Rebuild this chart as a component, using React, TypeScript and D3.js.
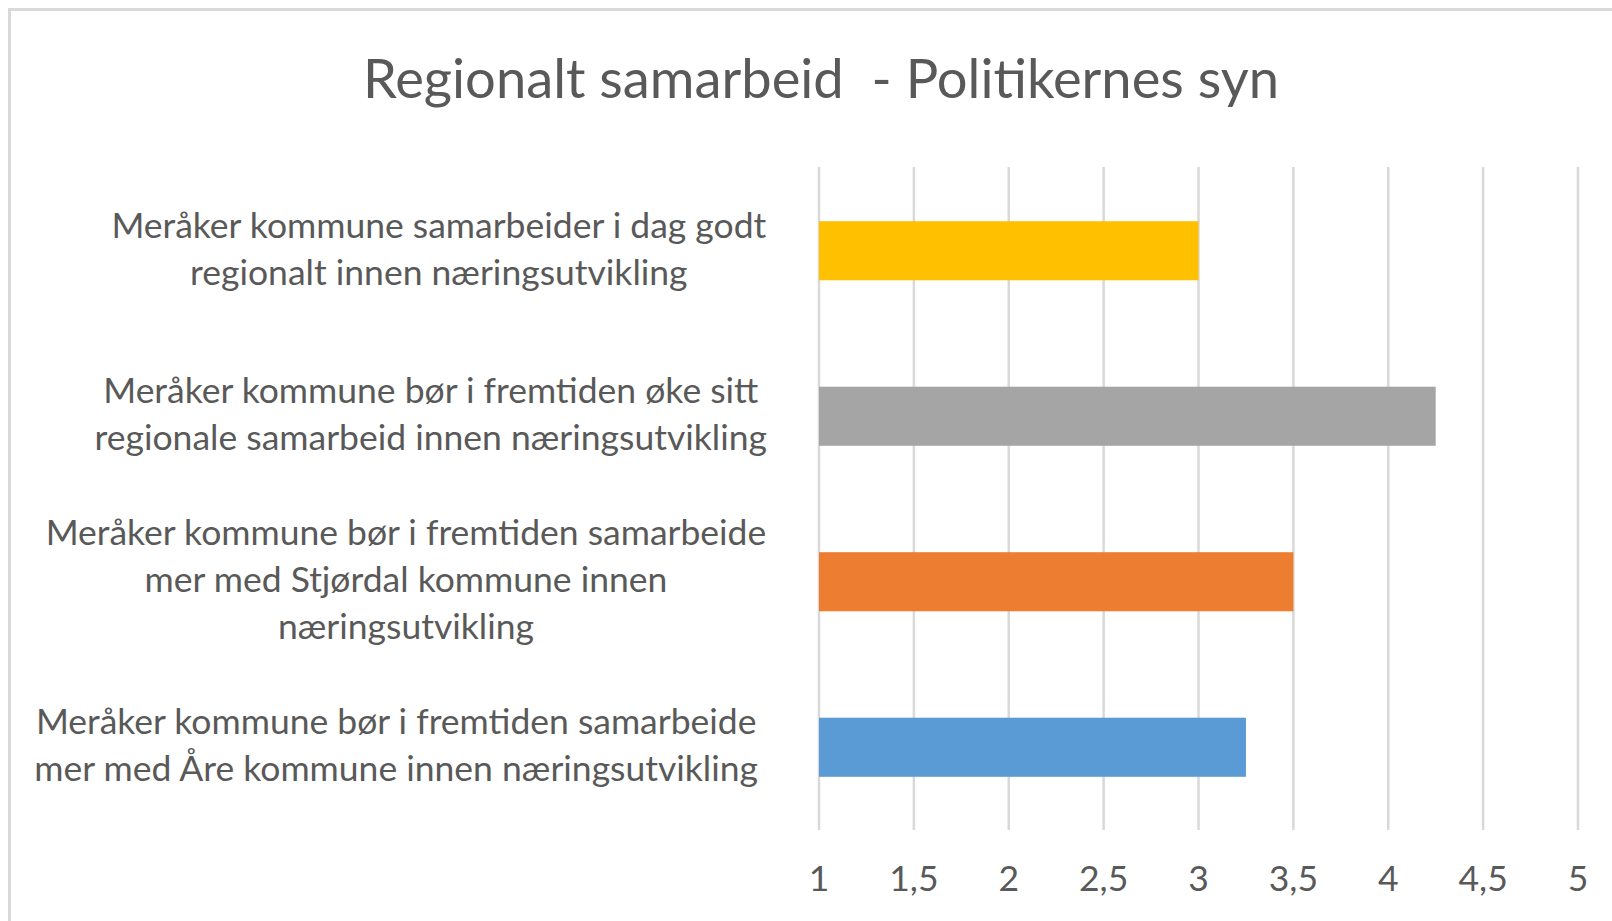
import React from "react";
import * as d3 from "d3";

const title = "Regionalt samarbeid  - Politikernes syn";
const categories = [
  "Meråker kommune samarbeider i dag godt regionalt innen næringsutvikling",
  "Meråker kommune bør i fremtiden øke sitt regionale samarbeid innen næringsutvikling",
  "Meråker kommune bør i fremtiden samarbeide mer med Stjørdal kommune innen næringsutvikling",
  "Meråker kommune bør i fremtiden samarbeide mer med Åre kommune innen næringsutvikling",
];
const categoryLines = [
  ["Meråker kommune samarbeider i dag godt", "regionalt innen næringsutvikling"],
  ["Meråker kommune bør i fremtiden øke sitt", "regionale samarbeid innen næringsutvikling"],
  ["Meråker kommune bør i fremtiden samarbeide", "mer med Stjørdal kommune innen", "næringsutvikling"],
  ["Meråker kommune bør i fremtiden samarbeide", "mer med Åre kommune innen næringsutvikling"],
];
const values = [3, 4.25, 3.5, 3.25];
const colors = ["#FFC000", "#A5A5A5", "#ED7D31", "#5B9BD5"];
const ticks = [1, 1.5, 2, 2.5, 3, 3.5, 4, 4.5, 5];

const W = 1612;
const H = 921;
const FONT = "Lato, 'Open Sans', sans-serif";
const LABEL_SIZE = 35.5;
const TITLE_SIZE = 54.3;
const TEXT_COLOR = "#595959";
const LABEL_RIGHT = [767, 767, 767, 759];

let ctx: CanvasRenderingContext2D | null = null;
function measure(text: string, size: number) {
  if (!ctx) ctx = document.createElement("canvas").getContext("2d");
  if (!ctx) return text.length * size * 0.5;
  ctx.font = `${size}px Lato`;
  return ctx.measureText(text).width;
}

export default function App() {
  const x = d3.scaleLinear().domain([1, 5]).range([819, 1578]);
  const y = d3
    .scaleBand<string>()
    .domain(categories)
    .range([168, 830])
    .paddingInner(0.643)
    .paddingOuter(0.3215);
  const lineH = 47;

  return (
    <svg
      width={W}
      height={H}
      style={{ position: "absolute", left: 0, top: 0, display: "block", background: "#fff" }}
      fontFamily={FONT}
    >
      <rect x={9.5} y={9.5} width={W + 20} height={H + 20} fill="#fff" stroke="#d9d9d9" strokeWidth={3} />
      <text
        x={821}
        y={98}
        textAnchor="middle"
        fontSize={TITLE_SIZE}
        fill={TEXT_COLOR}
        style={{ whiteSpace: "pre" }}
      >
        {title}
      </text>
      {ticks.map((t) => (
        <line key={"g" + t} x1={x(t)} x2={x(t)} y1={167} y2={830} stroke="#d9d9d9" strokeWidth={2.5} />
      ))}
      {categories.map((c, i) => (
        <rect
          key={"b" + i}
          x={x(1)}
          y={y(c)}
          width={x(values[i]) - x(1)}
          height={y.bandwidth()}
          fill={colors[i]}
        />
      ))}
      {ticks.map((t) => (
        <text
          key={"t" + t}
          x={x(t)}
          y={879}
          dy="0.35em"
          textAnchor="middle"
          fontSize={LABEL_SIZE}
          fill={TEXT_COLOR}
        >
          {String(t).replace(".", ",")}
        </text>
      ))}
      {categories.map((c, i) => {
        const lines = categoryLines[i];
        const blockW = Math.max(...lines.map((l) => measure(l, LABEL_SIZE)));
        const cx = LABEL_RIGHT[i] - blockW / 2;
        const cy = (y(c) as number) + y.bandwidth() / 2;
        const y0 = cy - ((lines.length - 1) * lineH) / 2 - 2;
        return (
          <text key={"l" + i} fontSize={LABEL_SIZE} fill={TEXT_COLOR} textAnchor="middle">
            {lines.map((l, j) => (
              <tspan key={j} x={cx} y={y0 + j * lineH} dy="0.35em">
                {l}
              </tspan>
            ))}
          </text>
        );
      })}
    </svg>
  );
}
